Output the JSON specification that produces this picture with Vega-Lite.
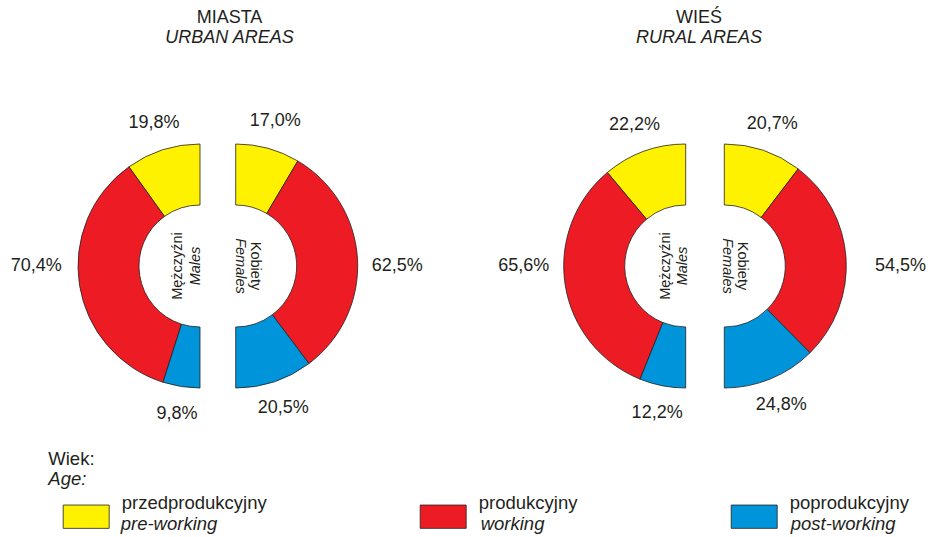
{
  "$schema": "https://vega.github.io/schema/vega-lite/v6.json",
  "width": 930,
  "height": 532,
  "autosize": "none",
  "padding": {"left": 0, "top": 0, "right": 0, "bottom": 5},
  "background": "white",
  "config": {
    "view": {"stroke": null},
    "font": "Liberation Sans",
    "text": {"color": "#231f20", "font": "Liberation Sans"},
    "locale": {"number": {"decimal": ",", "thousands": " ", "grouping": [3], "currency": ["", "%"]}}
  },
  "datasets": {
    "seg": [
      {"area": "Urban", "sex": "M", "segment": "przedprodukcyjny", "segment_en": "pre-working", "ord": 1, "pct": 19.8},
      {"area": "Urban", "sex": "M", "segment": "produkcyjny", "segment_en": "working", "ord": 2, "pct": 70.4},
      {"area": "Urban", "sex": "M", "segment": "poprodukcyjny", "segment_en": "post-working", "ord": 3, "pct": 9.8},
      {"area": "Urban", "sex": "F", "segment": "przedprodukcyjny", "segment_en": "pre-working", "ord": 1, "pct": 17.0},
      {"area": "Urban", "sex": "F", "segment": "produkcyjny", "segment_en": "working", "ord": 2, "pct": 62.5},
      {"area": "Urban", "sex": "F", "segment": "poprodukcyjny", "segment_en": "post-working", "ord": 3, "pct": 20.5},
      {"area": "Rural", "sex": "M", "segment": "przedprodukcyjny", "segment_en": "pre-working", "ord": 1, "pct": 22.2},
      {"area": "Rural", "sex": "M", "segment": "produkcyjny", "segment_en": "working", "ord": 2, "pct": 65.6},
      {"area": "Rural", "sex": "M", "segment": "poprodukcyjny", "segment_en": "post-working", "ord": 3, "pct": 12.2},
      {"area": "Rural", "sex": "F", "segment": "przedprodukcyjny", "segment_en": "pre-working", "ord": 1, "pct": 20.7},
      {"area": "Rural", "sex": "F", "segment": "produkcyjny", "segment_en": "working", "ord": 2, "pct": 54.5},
      {"area": "Rural", "sex": "F", "segment": "poprodukcyjny", "segment_en": "post-working", "ord": 3, "pct": 24.8}
    ],
    "sexes": [
      {"area": "Urban", "sex": "M", "pl": "Mężczyźni", "en": "Males"},
      {"area": "Urban", "sex": "F", "pl": "Kobiety", "en": "Females"},
      {"area": "Rural", "sex": "M", "pl": "Mężczyźni", "en": "Males"},
      {"area": "Rural", "sex": "F", "pl": "Kobiety", "en": "Females"}
    ],
    "titles": [
      {"area": "Urban", "line": "pl", "label": "MIASTA"},
      {"area": "Urban", "line": "en", "label": "URBAN AREAS"},
      {"area": "Rural", "line": "pl", "label": "WIEŚ"},
      {"area": "Rural", "line": "en", "label": "RURAL AREAS"}
    ]
  },
  "layer": [
    {
      "data": {"name": "seg"},
      "encoding": {
        "x": {"field": "area", "type": "nominal", "scale": {"type": "point", "domain": ["Urban", "Rural"], "range": [217.85, 705], "padding": 0}, "axis": null}
      },
      "layer": [
        {
          "transform": [{"filter": "datum.area === 'Urban' && datum.sex === 'M'"}],
          "layer": [
            {
              "mark": {"type": "arc", "outerRadius": 122, "innerRadius": 61, "stroke": "#231f20", "strokeWidth": 0.8, "xOffset": -17.85},
              "encoding": {
                "theta": {"field": "pct", "type": "quantitative", "stack": true, "scale": {"domain": [0, 100], "range": [6.283185, 3.141593]}},
                "order": {"field": "ord", "type": "quantitative"},
                "color": {"field": "segment", "type": "nominal", "scale": {"domain": ["przedprodukcyjny", "produkcyjny", "poprodukcyjny"], "range": ["#fff200", "#ed1c24", "#0095da"]},
                  "legend": {"title": "Wiek:", "orient": "none", "legendX": 48.3, "legendY": 450.3, "direction": "horizontal", "columns": 3, "gridAlign": "none", "padding": 0,
                    "symbolType": "M-1,-0.507H1V0.507H-1Z", "symbolSize": 2116, "symbolStrokeColor": "#231f20", "symbolStrokeWidth": 0.8, "symbolOffset": 14.4,
                    "labelOffset": 12, "columnPadding": 138, "labelFontSize": 18.5, "labelFont": "Liberation Sans", "labelColor": "#231f20", "labelBaseline": "bottom", "labelLimit": 400,
                    "titleFontSize": 18.5, "titleFont": "Liberation Sans", "titleFontWeight": "normal", "titleColor": "#231f20", "titlePadding": 24.4, "titleBaseline": "top",
                    "encode": {"labels": {"update": {"dy": {"value": -3.3}}}}}},
                "opacity": {"field": "segment_en", "type": "ordinal", "scale": {"domain": ["pre-working", "working", "post-working"], "range": [1, 1]},
                  "legend": {"title": "Age:", "orient": "none", "legendX": 48.3, "legendY": 470.3, "direction": "horizontal", "columns": 3, "gridAlign": "none", "padding": 0,
                    "symbolType": "M0,0H1", "symbolSize": 2116, "symbolFillColor": "transparent", "symbolStrokeColor": "transparent", "symbolStrokeWidth": 0, "symbolOffset": 14.4,
                    "labelOffset": 12, "columnPadding": 138, "labelFontSize": 18.5, "labelFont": "Liberation Sans", "labelFontStyle": "italic", "labelColor": "#231f20", "labelBaseline": "alphabetic", "labelLimit": 400,
                    "titleFontSize": 18.5, "titleFont": "Liberation Sans", "titleFontWeight": "normal", "titleFontStyle": "italic", "titleColor": "#231f20", "titlePadding": 16.2, "titleBaseline": "top",
                    "encode": {"symbols": {"update": {"opacity": {"value": 0}, "size": {"signal": "datum.index === 0 ? 134836 : datum.index === 1 ? 71610 : 2116"}}}, "labels": {"update": {"dy": {"value": 2.3}}}}}}
              }
            },
            {
              "mark": {"type": "text", "radius": 150, "xOffset": -17.85, "fontSize": 18, "baseline": "middle", "align": "center"},
              "encoding": {
                "theta": {"field": "pct", "type": "quantitative", "stack": true, "scale": {"domain": [0, 100], "range": [6.283185, 3.141593]}},
                "order": {"field": "ord", "type": "quantitative"},
                "detail": {"field": "segment", "type": "nominal"},
                "text": {"condition": {"test": "datum.segment !== 'produkcyjny'", "field": "pct", "type": "quantitative", "format": "$.1f"}, "value": ""}
              }
            },
            {
              "transform": [{"filter": "datum.segment === 'produkcyjny'"}],
              "mark": {"type": "text", "xOffset": -156.15, "fontSize": 18, "baseline": "middle", "align": "right"},
              "encoding": {"text": {"field": "pct", "type": "quantitative", "format": "$.1f"}}
            }
          ]
        },
        {
          "transform": [{"filter": "datum.area === 'Urban' && datum.sex === 'F'"}],
          "layer": [
            {
              "mark": {"type": "arc", "outerRadius": 122, "innerRadius": 61, "stroke": "#231f20", "strokeWidth": 0.8, "xOffset": 17.85},
              "encoding": {
                "theta": {"field": "pct", "type": "quantitative", "stack": true, "scale": {"domain": [0, 100], "range": [0, 3.141593]}},
                "order": {"field": "ord", "type": "quantitative"},
                "color": {"field": "segment", "type": "nominal"},
                "opacity": {"field": "segment_en", "type": "ordinal"}
              }
            },
            {
              "mark": {"type": "text", "radius": 150, "xOffset": 17.85, "fontSize": 18, "baseline": "middle", "align": "center"},
              "encoding": {
                "theta": {"field": "pct", "type": "quantitative", "stack": true, "scale": {"domain": [0, 100], "range": [0, 3.141593]}},
                "order": {"field": "ord", "type": "quantitative"},
                "detail": {"field": "segment", "type": "nominal"},
                "text": {"condition": {"test": "datum.segment !== 'produkcyjny'", "field": "pct", "type": "quantitative", "format": "$.1f"}, "value": ""}
              }
            },
            {
              "transform": [{"filter": "datum.segment === 'produkcyjny'"}],
              "mark": {"type": "text", "xOffset": 153.85, "fontSize": 18, "baseline": "middle", "align": "left"},
              "encoding": {"text": {"field": "pct", "type": "quantitative", "format": "$.1f"}}
            }
          ]
        },
        {
          "transform": [{"filter": "datum.area === 'Rural' && datum.sex === 'M'"}],
          "layer": [
            {
              "mark": {"type": "arc", "outerRadius": 122, "innerRadius": 61, "stroke": "#231f20", "strokeWidth": 0.8, "xOffset": -19.3},
              "encoding": {
                "theta": {"field": "pct", "type": "quantitative", "stack": true, "scale": {"domain": [0, 100], "range": [6.283185, 3.141593]}},
                "order": {"field": "ord", "type": "quantitative"},
                "color": {"field": "segment", "type": "nominal"},
                "opacity": {"field": "segment_en", "type": "ordinal"}
              }
            },
            {
              "mark": {"type": "text", "radius": 150, "xOffset": -19.3, "fontSize": 18, "baseline": "middle", "align": "center"},
              "encoding": {
                "theta": {"field": "pct", "type": "quantitative", "stack": true, "scale": {"domain": [0, 100], "range": [6.283185, 3.141593]}},
                "order": {"field": "ord", "type": "quantitative"},
                "detail": {"field": "segment", "type": "nominal"},
                "text": {"condition": {"test": "datum.segment !== 'produkcyjny'", "field": "pct", "type": "quantitative", "format": "$.1f"}, "value": ""}
              }
            },
            {
              "transform": [{"filter": "datum.segment === 'produkcyjny'"}],
              "mark": {"type": "text", "xOffset": -155.7, "fontSize": 18, "baseline": "middle", "align": "right"},
              "encoding": {"text": {"field": "pct", "type": "quantitative", "format": "$.1f"}}
            }
          ]
        },
        {
          "transform": [{"filter": "datum.area === 'Rural' && datum.sex === 'F'"}],
          "layer": [
            {
              "mark": {"type": "arc", "outerRadius": 122, "innerRadius": 61, "stroke": "#231f20", "strokeWidth": 0.8, "xOffset": 19.3},
              "encoding": {
                "theta": {"field": "pct", "type": "quantitative", "stack": true, "scale": {"domain": [0, 100], "range": [0, 3.141593]}},
                "order": {"field": "ord", "type": "quantitative"},
                "color": {"field": "segment", "type": "nominal"},
                "opacity": {"field": "segment_en", "type": "ordinal"}
              }
            },
            {
              "mark": {"type": "text", "radius": 150, "xOffset": 19.3, "fontSize": 18, "baseline": "middle", "align": "center"},
              "encoding": {
                "theta": {"field": "pct", "type": "quantitative", "stack": true, "scale": {"domain": [0, 100], "range": [0, 3.141593]}},
                "order": {"field": "ord", "type": "quantitative"},
                "detail": {"field": "segment", "type": "nominal"},
                "text": {"condition": {"test": "datum.segment !== 'produkcyjny'", "field": "pct", "type": "quantitative", "format": "$.1f"}, "value": ""}
              }
            },
            {
              "transform": [{"filter": "datum.segment === 'produkcyjny'"}],
              "mark": {"type": "text", "xOffset": 170, "fontSize": 18, "baseline": "middle", "align": "left"},
              "encoding": {"text": {"field": "pct", "type": "quantitative", "format": "$.1f"}}
            }
          ]
        },
        {
          "data": {"name": "sexes"},
          "transform": [{"filter": "datum.sex === 'M'"}],
          "mark": {"type": "text", "angle": 270, "xOffset": -39.5, "fontSize": 14.5, "baseline": "middle", "align": "center"},
          "encoding": {"text": {"field": "pl", "type": "nominal"}}
        },
        {
          "data": {"name": "sexes"},
          "transform": [{"filter": "datum.sex === 'M'"}],
          "mark": {"type": "text", "angle": 270, "xOffset": -22.2, "fontSize": 14.5, "fontStyle": "italic", "baseline": "middle", "align": "center"},
          "encoding": {"text": {"field": "en", "type": "nominal"}}
        },
        {
          "data": {"name": "sexes"},
          "transform": [{"filter": "datum.sex === 'F'"}],
          "mark": {"type": "text", "angle": 90, "xOffset": 37, "fontSize": 14.5, "baseline": "middle", "align": "center"},
          "encoding": {"text": {"field": "pl", "type": "nominal"}}
        },
        {
          "data": {"name": "sexes"},
          "transform": [{"filter": "datum.sex === 'F'"}],
          "mark": {"type": "text", "angle": 90, "xOffset": 21.7, "fontSize": 14.5, "fontStyle": "italic", "baseline": "middle", "align": "center"},
          "encoding": {"text": {"field": "en", "type": "nominal"}}
        }
      ],
      "resolve": {"scale": {"theta": "independent"}}
    },
    {
      "data": {"name": "titles"},
      "encoding": {
        "x": {"field": "area", "type": "nominal", "scale": {"type": "point", "domain": ["Urban", "Rural"], "range": [229.5, 699], "padding": 0}, "axis": null},
        "y": {"field": "line", "type": "nominal", "scale": {"type": "point", "domain": ["pl", "en"], "range": [17.7, 37.7], "padding": 0}, "axis": null},
        "text": {"field": "label", "type": "nominal"}
      },
      "layer": [
        {"transform": [{"filter": "datum.line === 'pl'"}], "mark": {"type": "text", "fontSize": 18, "baseline": "middle", "align": "center"}},
        {"transform": [{"filter": "datum.line === 'en'"}], "mark": {"type": "text", "fontSize": 18, "fontStyle": "italic", "baseline": "middle", "align": "center"}}
      ]
    }
  ],
  "resolve": {"scale": {"x": "independent"}}
}
